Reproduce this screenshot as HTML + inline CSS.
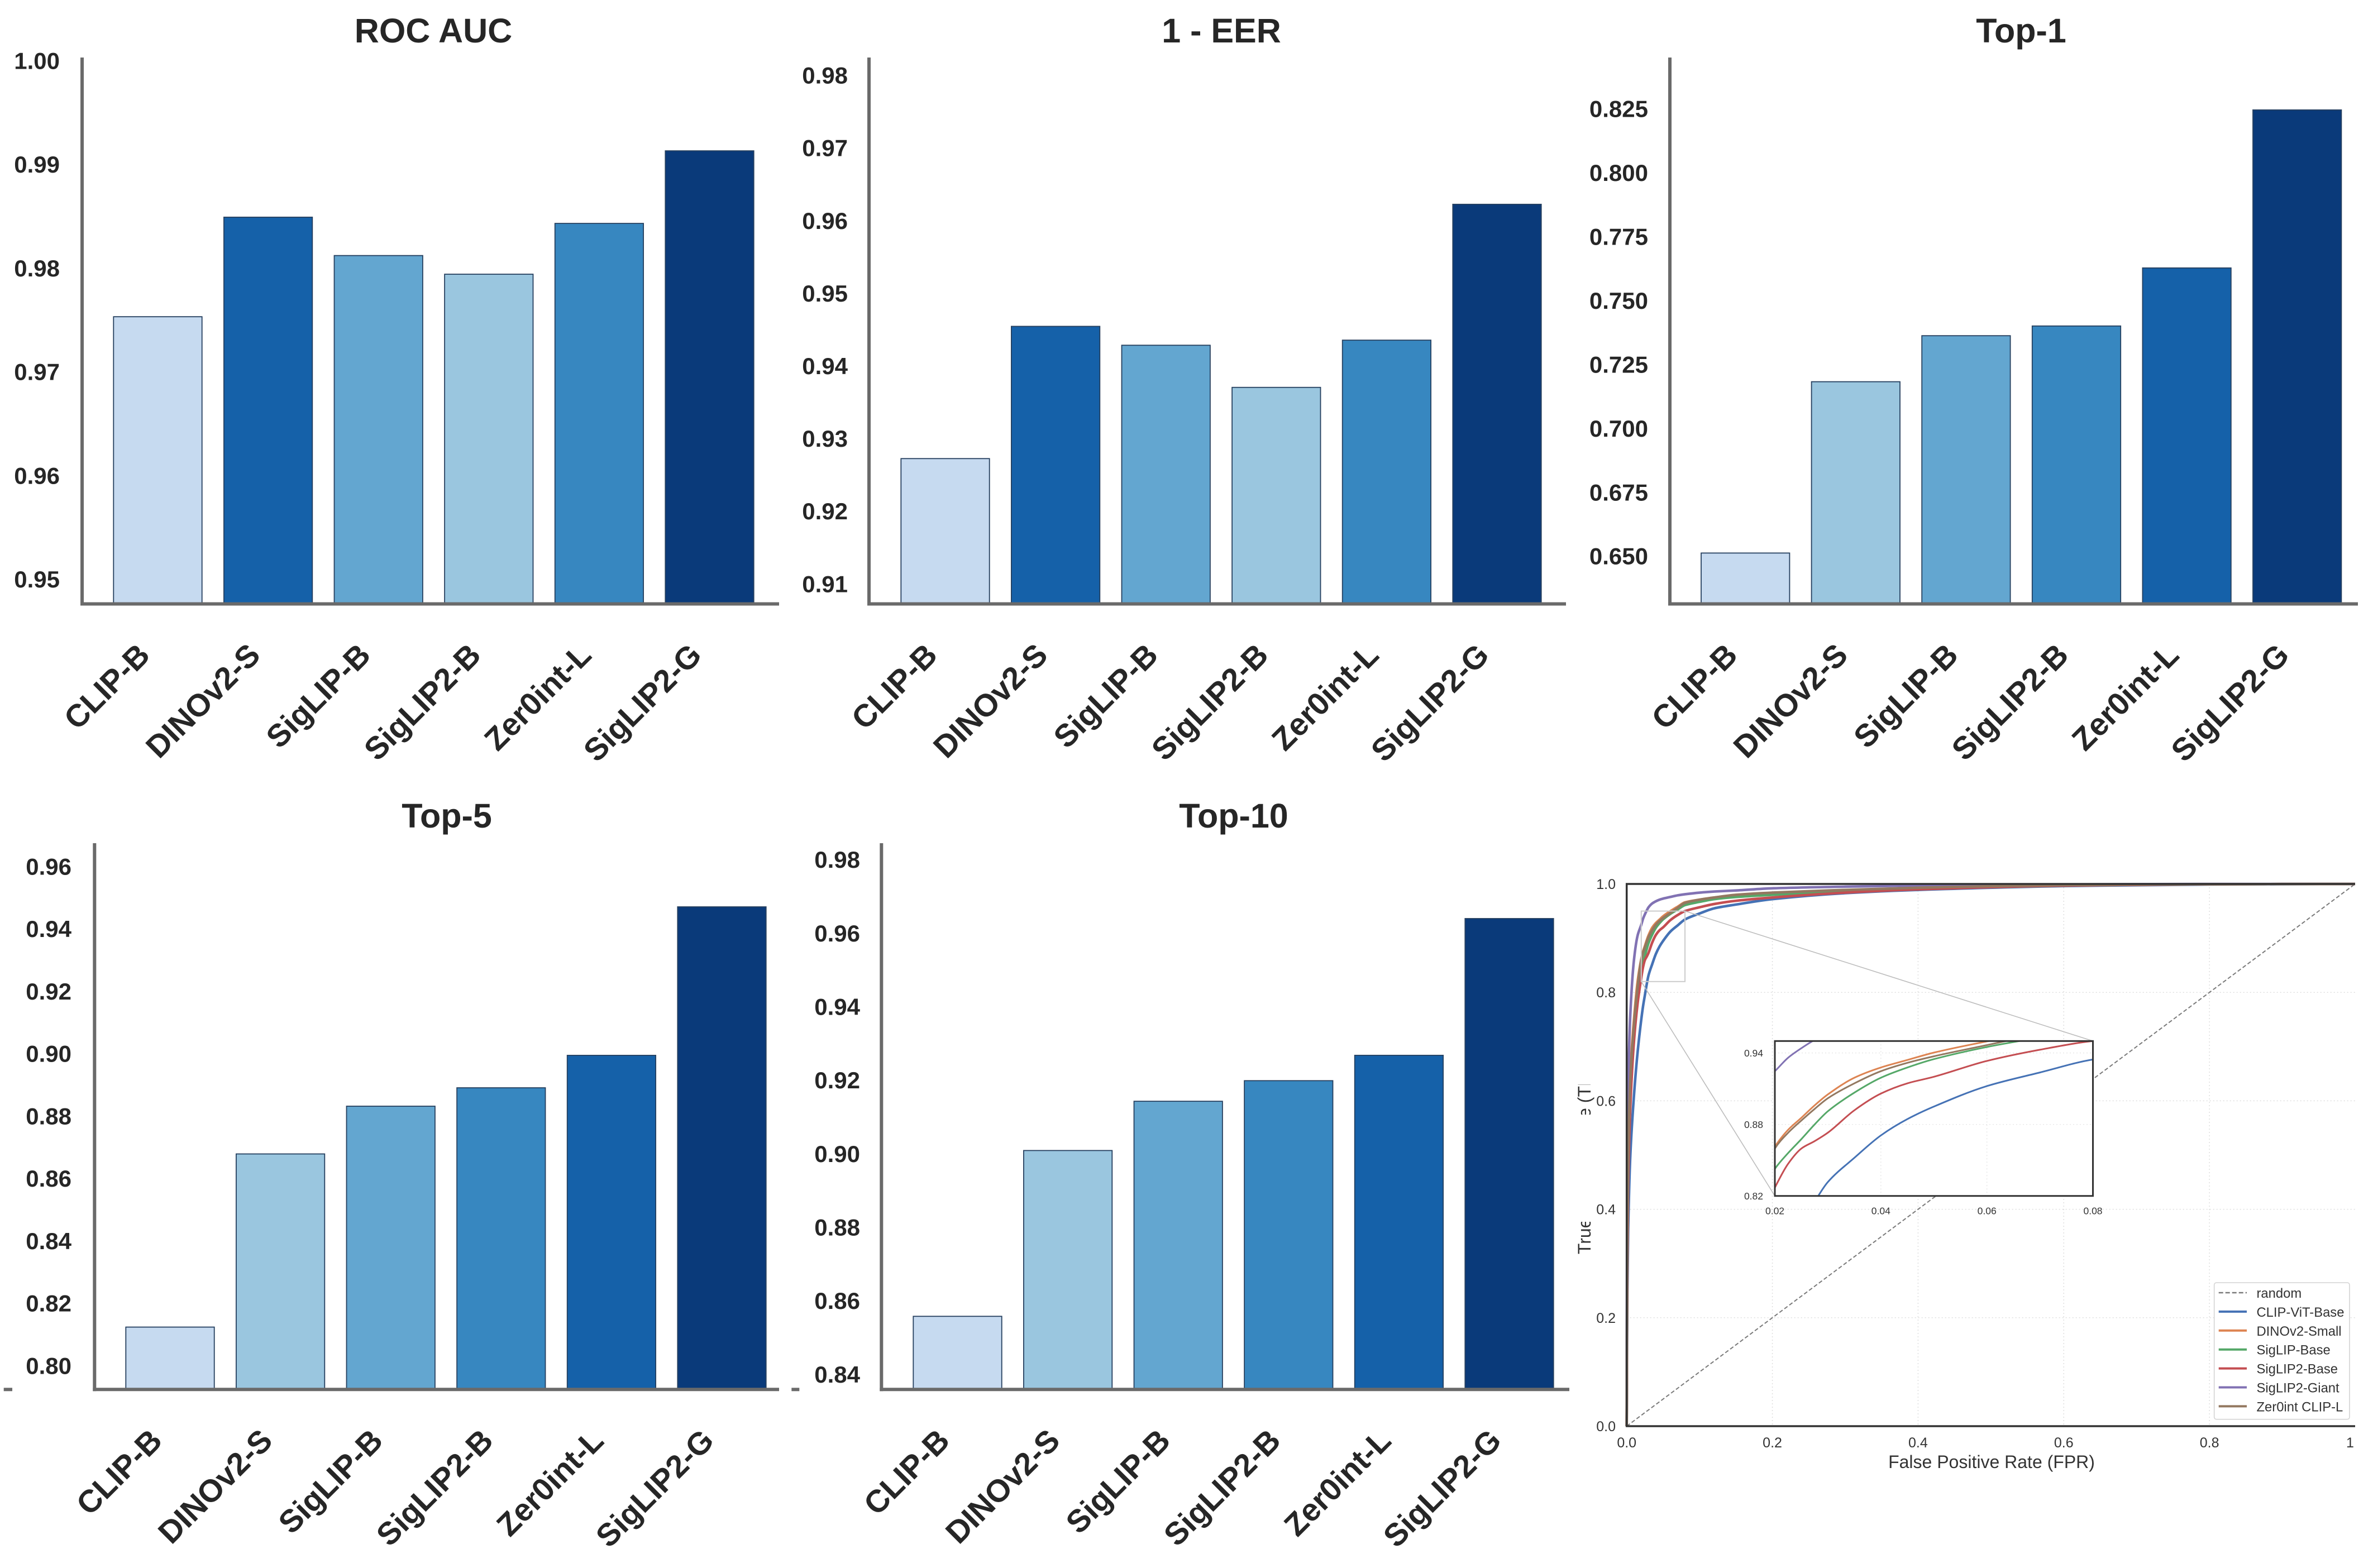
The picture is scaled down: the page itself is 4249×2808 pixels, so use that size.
<!DOCTYPE html>
<html lang="en">
<head>
<meta charset="utf-8">
<title>Model comparison metrics and ROC curves</title>
<style>
html,body{margin:0;padding:0;background:#fff;width:4249px;height:2808px;overflow:hidden}
#stage{position:absolute;left:0;top:0;width:4249px;height:2808px;overflow:hidden}
svg{display:block}
text{font-family:"Liberation Sans",Arial,sans-serif}
</style>
</head>
<body>
<div id="stage">
<svg id="figure" xmlns="http://www.w3.org/2000/svg" width="4249" height="2808" viewBox="0 0 4249 2808">
<rect x="0" y="0" width="4249" height="2808" fill="#ffffff"></rect>
</svg>
</div>
<script>
// ---- Bar chart data ----
var categories = ['CLIP-B', 'DINOv2-S', 'SigLIP-B', 'SigLIP2-B', 'Zer0int-L', 'SigLIP2-G'];
var rocAucValues = [0.9753, 0.9849, 0.9812, 0.9794, 0.9843, 0.9913];
var eerValues = [0.9273, 0.9455, 0.9429, 0.9371, 0.9436, 0.9623];
var top1Values = [0.6515, 0.7185, 0.7365, 0.7403, 0.763, 0.8248];
var top5Values = [0.8125, 0.8680, 0.8833, 0.8892, 0.8996, 0.9472];
var top10Values = [0.8558, 0.9009, 0.9143, 0.9199, 0.9268, 0.9640];
var rocAucTicks = ['0.95', '0.96', '0.97', '0.98', '0.99', '1.00'];
var eerTicks = ['0.91', '0.92', '0.93', '0.94', '0.95', '0.96', '0.97', '0.98'];
var top1Ticks = ['0.650', '0.675', '0.700', '0.725', '0.750', '0.775', '0.800', '0.825'];
var top5Ticks = ['0.80', '0.82', '0.84', '0.86', '0.88', '0.90', '0.92', '0.94', '0.96'];
var top10Ticks = ['0.84', '0.86', '0.88', '0.90', '0.92', '0.94', '0.96', '0.98'];
var rankColors = ['#c6daf0', '#9ac6df', '#63a6d0', '#3787c0', '#1561a9', '#0a3a7a'];

// ---- ROC data ----
var rocFpr = [0, 0.0005, 0.001, 0.002, 0.005, 0.01, 0.015, 0.02, 0.0225, 0.025, 0.0275, 0.03, 0.035, 0.04, 0.045, 0.05, 0.06, 0.07, 0.08, 0.1, 0.12, 0.15, 0.2, 0.3, 0.4, 0.6, 0.8, 1];
var clipVitTpr = [0, 0.15, 0.25, 0.36, 0.5, 0.61, 0.69, 0.75, 0.775, 0.795, 0.815, 0.8317, 0.852, 0.8708, 0.8845, 0.895, 0.9122, 0.9236, 0.9345, 0.9455, 0.955, 0.962, 0.972, 0.983, 0.989, 0.996, 0.999, 1];
var dinoTpr = [0, 0.25, 0.38, 0.5, 0.65, 0.75, 0.82, 0.8614, 0.8755, 0.8856, 0.896, 0.9052, 0.9192, 0.9278, 0.9341, 0.9403, 0.9497, 0.958, 0.966, 0.971, 0.975, 0.979, 0.983, 0.988, 0.992, 0.997, 0.9995, 1];
var siglipTpr = [0, 0.22, 0.34, 0.47, 0.62, 0.73, 0.8, 0.8427, 0.856, 0.8677, 0.88, 0.8911, 0.9067, 0.9192, 0.9278, 0.9348, 0.945, 0.953, 0.961, 0.967, 0.972, 0.976, 0.98, 0.987, 0.991, 0.997, 0.9995, 1];
var siglip2BaseTpr = [0, 0.2, 0.31, 0.44, 0.59, 0.71, 0.78, 0.827, 0.847, 0.8598, 0.866, 0.8731, 0.8919, 0.9059, 0.9145, 0.92, 0.9333, 0.9427, 0.95, 0.957, 0.963, 0.969, 0.975, 0.984, 0.99, 0.997, 0.9995, 1];
var siglip2GiantTpr = [0, 0.4, 0.5, 0.62, 0.76, 0.86, 0.905, 0.9247, 0.936, 0.944, 0.951, 0.957, 0.964, 0.968, 0.971, 0.973, 0.976, 0.979, 0.981, 0.984, 0.986, 0.988, 0.992, 0.995, 0.997, 0.999, 1, 1];
var zer0intTpr = [0, 0.24, 0.37, 0.49, 0.64, 0.74, 0.81, 0.8598, 0.873, 0.8833, 0.893, 0.902, 0.9145, 0.9247, 0.9317, 0.9372, 0.9466, 0.956, 0.965, 0.971, 0.975, 0.98, 0.984, 0.989, 0.993, 0.998, 0.9995, 1];
var randomFpr = [0, 1];
var randomTpr = [0, 1];
var rocXTicks = ['0.0', '0.2', '0.4', '0.6', '0.8', '1'];
var rocYTicks = ['0.0', '0.2', '0.4', '0.6', '0.8', '1.0'];
var insetXTicks = ['0.02', '0.04', '0.06', '0.08'];
var insetYTicks = ['0.82', '0.88', '0.94'];
var legendLabels = ['random', 'CLIP-ViT-Base', 'DINOv2-Small', 'SigLIP-Base', 'SigLIP2-Base', 'SigLIP2-Giant', 'Zer0int CLIP-L'];

var SVGNS = 'http://www.w3.org/2000/svg';
var svg = document.getElementById('figure');

function make(tag, attrs, parent, text) {
  var node = document.createElementNS(SVGNS, tag);
  for (var key in attrs) { node.setAttribute(key, attrs[key]); }
  if (text !== undefined) { node.textContent = text; }
  (parent || svg).appendChild(node);
  return node;
}

function slug(s) {
  return String(s).toLowerCase().replace(/[^a-z0-9]+/g, '-').replace(/^-|-$/g, '');
}

// ---- Bar panels ----
var barPanels = [
  {key: 'roc-auc', title: 'ROC AUC', values: rocAucValues, ticks: rocAucTicks, axisX: 147, axisRight: 1395, base: 1081.5, top: 103, vMin: 0.9476, vMax: 1.0003, barLeft: 203.3, labelRight: 107, labelDy: 15, titleX: 776, titleY: 76},
  {key: 'one-minus-eer', title: '1 - EER', values: eerValues, ticks: eerTicks, axisX: 1556, axisRight: 2804, base: 1081.5, top: 103, vMin: 0.9073, vMax: 0.9825, barLeft: 1613.3, labelRight: 1518, labelDy: 14, titleX: 2187, titleY: 76},
  {key: 'top-1', title: 'Top-1', values: top1Values, ticks: top1Ticks, axisX: 2990, axisRight: 4222, base: 1081.5, top: 103, vMin: 0.6316, vMax: 0.8453, barLeft: 3046, labelRight: 2951, labelDy: 13.5, titleX: 3619, titleY: 76},
  {key: 'top-5', title: 'Top-5', values: top5Values, ticks: top5Ticks, axisX: 169.3, axisRight: 1395, base: 2488.3, top: 1510, vMin: 0.7925, vMax: 0.9676, barLeft: 225.3, labelRight: 128, labelDy: 14, titleX: 800, titleY: 1482},
  {key: 'top-10', title: 'Top-10', values: top10Values, ticks: top10Ticks, axisX: 1578.3, axisRight: 2810, base: 2488.3, top: 1510, vMin: 0.8359, vMax: 0.9845, barLeft: 1635.3, labelRight: 1540, labelDy: 14.5, titleX: 2209, titleY: 1482}
];
var BAR_PITCH = 197.6;
var BAR_WIDTH = 158.4;

function yScaleFor(p) {
  return function (v) { return p.base - (v - p.vMin) / (p.vMax - p.vMin) * (p.base - p.top); };
}
function xBandFor(p) {
  return function (i) { return p.barLeft + i * BAR_PITCH; };
}
function rankOf(values, i) {
  var sorted = values.slice().sort(function (a, b) { return a - b; });
  return sorted.indexOf(values[i]);
}

barPanels.forEach(function (p) {
  var y = yScaleFor(p);
  var x = xBandFor(p);
  var g = make('g', {});
  
  

  var title = make('text', {x: p.titleX, y: p.titleY, 'text-anchor': 'middle', 'font-size': 61, 'font-weight': 700, fill: '#262626'}, g, p.title);
  
  

  p.values.forEach(function (v, i) {
    var bar = make('rect', {x: x(i), y: y(v), width: BAR_WIDTH, height: p.base - y(v), fill: rankColors[rankOf(p.values, i)], stroke: '#26405f', 'stroke-width': 1.8}, g);
    
    

    var cx = x(i) + BAR_WIDTH / 2 - 11;
    var cy = p.base + 95;
    var label = make('text', {x: cx, y: cy, transform: 'rotate(-45 ' + cx + ' ' + cy + ')', 'text-anchor': 'end', 'font-size': 56.5, 'font-weight': 700, fill: '#262626'}, g, categories[i]);
    
    
  });

  p.ticks.forEach(function (t) {
    var tick = make('text', {x: p.labelRight, y: y(parseFloat(t)) + p.labelDy, 'text-anchor': 'end', 'font-size': 42, 'font-weight': 700, fill: '#262626'}, g, t);
    
    
  });

  var yAxis = make('line', {x1: p.axisX, x2: p.axisX, y1: p.top, y2: p.base + 3, stroke: '#6a6a6a', 'stroke-width': 6}, g);
  
  

  var xAxis = make('line', {x1: p.axisX - 3, x2: p.axisRight, y1: p.base, y2: p.base, stroke: '#6a6a6a', 'stroke-width': 6}, g);
  
  
});

var stubA = make('rect', {x: 6.7, y: 2485.3, width: 15.3, height: 6, fill: '#6a6a6a'});


var stubB = make('rect', {x: 1417.3, y: 2485.3, width: 14, height: 6, fill: '#6a6a6a'});



// ---- ROC panel ----
var ROC = {left: 2912.7, right: 4217, top: 1583, bottom: 2554};
var INSET = {left: 3178, right: 3747.5, top: 1864.3, bottom: 2141.7, xMin: 0.02, xMax: 0.08, yMin: 0.82, yMax: 0.95};

function rocX(v) { return ROC.left + v * (ROC.right - ROC.left); }
function rocY(v) { return ROC.bottom - v * (ROC.bottom - ROC.top); }
function insetX(v) { return INSET.left + (v - INSET.xMin) / (INSET.xMax - INSET.xMin) * (INSET.right - INSET.left); }
function insetY(v) { return INSET.bottom - (v - INSET.yMin) / (INSET.yMax - INSET.yMin) * (INSET.bottom - INSET.top); }

// Monotone cubic path through the data points, after mapping via the axis functions.
function curvePath(xs, ys, fx, fy) {
  var px = xs.map(fx);
  var py = ys.map(fy);
  var n = px.length;
  var slopes = [];
  var i;
  for (i = 0; i < n - 1; i++) { slopes.push((py[i + 1] - py[i]) / (px[i + 1] - px[i])); }
  var tangents = [slopes[0]];
  for (i = 1; i < n - 1; i++) {
    if (slopes[i - 1] * slopes[i] <= 0) {
      tangents.push(0);
    } else {
      tangents.push(2 * slopes[i - 1] * slopes[i] / (slopes[i - 1] + slopes[i]));
    }
  }
  tangents.push(slopes[n - 2]);
  var d = 'M' + px[0].toFixed(2) + ' ' + py[0].toFixed(2);
  for (i = 0; i < n - 1; i++) {
    var h = (px[i + 1] - px[i]) / 3;
    d += 'C' + (px[i] + h).toFixed(2) + ' ' + (py[i] + tangents[i] * h).toFixed(2) + ' ' +
         (px[i + 1] - h).toFixed(2) + ' ' + (py[i + 1] - tangents[i + 1] * h).toFixed(2) + ' ' +
         px[i + 1].toFixed(2) + ' ' + py[i + 1].toFixed(2);
  }
  return d;
}

var rocSeries = [
  {name: 'clip-vit-base', values: clipVitTpr, color: '#4572b5'},
  {name: 'dinov2-small', values: dinoTpr, color: '#dd8452'},
  {name: 'siglip-base', values: siglipTpr, color: '#55a868'},
  {name: 'siglip2-base', values: siglip2BaseTpr, color: '#c44e52'},
  {name: 'siglip2-giant', values: siglip2GiantTpr, color: '#8172b3'},
  {name: 'zer0int-clip-l', values: zer0intTpr, color: '#937860'}
];

var roc = make('g', {});



var defs = make('defs', {}, roc);
var clip = make('clipPath', {id: 'inset-clip'}, defs);
make('rect', {x: INSET.left, y: INSET.top, width: INSET.right - INSET.left, height: INSET.bottom - INSET.top}, clip);
var titleClip = make('clipPath', {id: 'y-title-clip'}, defs);
make('rect', {x: 2800, y: 1942, width: 70, height: 54}, titleClip);
make('rect', {x: 2800, y: 2188, width: 70, height: 70}, titleClip);

// grid
[0.2, 0.4, 0.6, 0.8].forEach(function (v) {
  var gx = make('line', {x1: rocX(v), x2: rocX(v), y1: ROC.top, y2: ROC.bottom, stroke: '#dedede', 'stroke-width': 1.5, 'stroke-dasharray': '2 4'}, roc);
  
  
  var gy = make('line', {x1: ROC.left, x2: ROC.right, y1: rocY(v), y2: rocY(v), stroke: '#dedede', 'stroke-width': 1.5, 'stroke-dasharray': '2 4'}, roc);
  
  
});

var randomLine = make('path', {d: curvePath(randomFpr, randomTpr, rocX, rocY), fill: 'none', stroke: '#7a7a7a', 'stroke-width': 2, 'stroke-dasharray': '7 4'}, roc);



rocSeries.forEach(function (s) {
  var line = make('path', {d: curvePath(rocFpr, s.values, rocX, rocY), fill: 'none', stroke: s.color, 'stroke-width': 4.6, 'stroke-linejoin': 'round'}, roc);
  
  
});

// frame
var frame = make('path', {d: 'M' + ROC.right + ' ' + ROC.top + 'H' + ROC.left + 'V' + ROC.bottom + 'H' + ROC.right, fill: 'none', stroke: '#333333', 'stroke-width': 3.5}, roc);



// ticks
rocXTicks.forEach(function (t) {
  var v = parseFloat(t);
  var tick = make('text', {x: v === 1 ? rocX(v) - 9 : rocX(v), y: 2592, 'text-anchor': 'middle', 'font-size': 25, fill: '#333333'}, roc, t);
  
  
});
rocYTicks.forEach(function (t) {
  var tick = make('text', {x: 2893, y: rocY(parseFloat(t)) + 9, 'text-anchor': 'end', 'font-size': 25, fill: '#333333'}, roc, t);
  
  
});

var xTitle = make('text', {x: 3566, y: 2629, 'text-anchor': 'middle', 'font-size': 32, fill: '#333333'}, roc, 'False Positive Rate (FPR)');



var yTitleGroup = make('g', {'clip-path': 'url(#y-title-clip)'}, roc);


var yTitle = make('text', {x: 2848, y: 2068, transform: 'rotate(-90 2848 2068)', 'text-anchor': 'middle', 'font-size': 32, fill: '#333333'}, yTitleGroup, 'True Positive Rate (TPR)');



// zoom source rectangle and connectors
var zoomRect = make('rect', {x: rocX(INSET.xMin), y: rocY(INSET.yMax), width: rocX(INSET.xMax) - rocX(INSET.xMin), height: rocY(INSET.yMin) - rocY(INSET.yMax), fill: 'none', stroke: '#cccccc', 'stroke-width': 2}, roc);



var connectorTop = make('line', {x1: rocX(INSET.xMax), y1: rocY(INSET.yMax), x2: INSET.right, y2: INSET.top, stroke: '#bdbdbd', 'stroke-width': 1.6}, roc);


var connectorBottom = make('line', {x1: rocX(INSET.xMin), y1: rocY(INSET.yMin), x2: INSET.left, y2: INSET.bottom, stroke: '#bdbdbd', 'stroke-width': 1.6}, roc);



// inset
var inset = make('g', {}, roc);



var insetBg = make('rect', {x: INSET.left, y: INSET.top, width: INSET.right - INSET.left, height: INSET.bottom - INSET.top, fill: '#ffffff'}, inset);



[0.04, 0.06].forEach(function (v) {
  var g1 = make('line', {x1: insetX(v), x2: insetX(v), y1: INSET.top, y2: INSET.bottom, stroke: '#e2e2e2', 'stroke-width': 1.2, 'stroke-dasharray': '2 4'}, inset);
  
  
});
[0.88, 0.94].forEach(function (v) {
  var g2 = make('line', {x1: INSET.left, x2: INSET.right, y1: insetY(v), y2: insetY(v), stroke: '#e2e2e2', 'stroke-width': 1.2, 'stroke-dasharray': '2 4'}, inset);
  
  
});

var insetCurves = make('g', {'clip-path': 'url(#inset-clip)'}, inset);


rocSeries.forEach(function (s) {
  var line = make('path', {d: curvePath(rocFpr, s.values, insetX, insetY), fill: 'none', stroke: s.color, 'stroke-width': 3, 'stroke-linejoin': 'round'}, insetCurves);
  
  
});

var insetFrame = make('rect', {x: INSET.left, y: INSET.top, width: INSET.right - INSET.left, height: INSET.bottom - INSET.top, fill: 'none', stroke: '#333333', 'stroke-width': 3}, inset);



insetXTicks.forEach(function (t) {
  var tick = make('text', {x: insetX(parseFloat(t)), y: 2174.5, 'text-anchor': 'middle', 'font-size': 17.5, fill: '#333333'}, inset, t);
  
  
});
insetYTicks.forEach(function (t) {
  var tick = make('text', {x: 3157, y: insetY(parseFloat(t)) + 6.5, 'text-anchor': 'end', 'font-size': 17.5, fill: '#333333'}, inset, t);
  
  
});

// legend
var legend = make('g', {}, roc);


var legendBox = make('rect', {x: 3964.7, y: 2297, width: 242.3, height: 244.7, rx: 4, fill: '#ffffff', stroke: '#d4d4d4', 'stroke-width': 1.6}, legend);


legendLabels.forEach(function (label, i) {
  var ly = 2316 + i * 33.9;
  var color = i === 0 ? '#7a7a7a' : rocSeries[i - 1].color;
  var swatch = make('line', {x1: 3972.7, x2: 4023, y1: ly - 1, y2: ly - 1, stroke: color, 'stroke-width': i === 0 ? 2.6 : 4, 'stroke-dasharray': i === 0 ? '8 4' : 'none'}, legend);
  
  
  var txt = make('text', {x: 4040.5, y: ly + 8, 'font-size': 23.8, fill: '#333333'}, legend, label);
  
  
});
</script>
</body>
</html>
